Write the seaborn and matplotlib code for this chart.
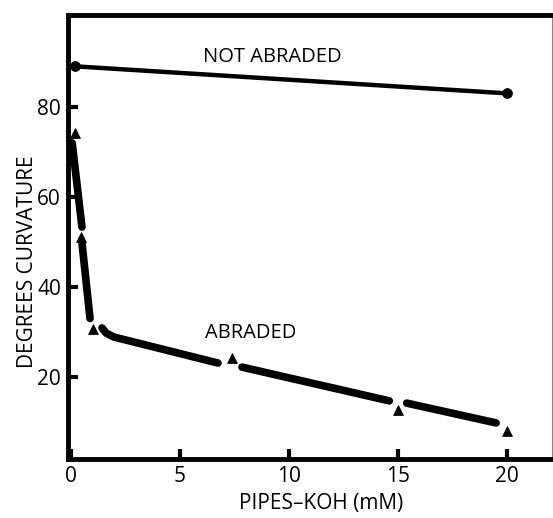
import pandas as pd
import seaborn as sns
import matplotlib.pyplot as plt

# measured points
not_abraded_x = [0.2, 20.0]
not_abraded_y = [89.0, 83.0]
abraded_x = [0.2, 0.45, 1.0, 7.4, 15.0, 20.0]
abraded_y = [74.2, 51.0, 30.7, 24.2, 12.7, 8.0]

# hand-drawn curve through abraded data, broken into pieces
curve_seg = [1, 1, 2, 2, 3, 3, 3, 3, 4, 4, 5, 5]
curve_x = [0.05, 0.5, 0.5, 0.87, 1.42, 1.6, 1.95, 6.74, 7.84, 14.6, 15.4, 19.5]
curve_y = [72.0, 53.3, 49.8, 33.0, 30.9, 29.8, 28.9, 23.1, 22.2, 14.7, 14.2, 9.8]

x_ticks = [0, 5, 10, 15, 20]
y_ticks = [20, 40, 60, 80]

sns.set_theme(style='ticks')
plt.rcParams['font.family'] = ['Open Sans', 'DejaVu Sans']
plt.rcParams['font.weight'] = 'medium'
plt.rcParams['text.color'] = 'black'
plt.rcParams['axes.labelcolor'] = 'black'
plt.rcParams['xtick.labelcolor'] = 'black'
plt.rcParams['ytick.labelcolor'] = 'black'

fig = plt.figure(figsize=(5.53, 5.18), dpi=100)
ax = fig.add_axes([0.123, 0.114, 0.875, 0.857])

na = pd.DataFrame({'x': not_abraded_x, 'y': not_abraded_y})
ab = pd.DataFrame({'x': abraded_x, 'y': abraded_y})
cv = pd.DataFrame({'x': curve_x, 'y': curve_y, 'seg': curve_seg})

sns.lineplot(data=na, x='x', y='y', color='black', lw=3.2, ax=ax)
sns.scatterplot(data=na, x='x', y='y', color='black', s=50, marker='o', edgecolor='black', ax=ax, zorder=3)
sns.lineplot(data=cv, x='x', y='y', units='seg', estimator=None, sort=False,
             color='black', lw=5.5, solid_capstyle='round', ax=ax)
sns.scatterplot(data=ab, x='x', y='y', color='black', s=50, marker='^', edgecolor='black', ax=ax, zorder=3)

ax.text(6.05, 91.1, 'NOT ABRADED', fontsize=14.5, va='center', ha='left')
ax.text(6.15, 29.8, 'ABRADED', fontsize=14.5, va='center', ha='left')

ax.set_xlim(-0.14, 22.06)
ax.set_ylim(1.8, 100.4)
ax.set_xticks(x_ticks)
ax.set_yticks(y_ticks)
ax.tick_params(direction='in', length=7, width=3, labelsize=15, color='black', pad=5)
ax.set_xlabel('PIPES\u2013KOH (mM)', fontsize=15)
ax.set_ylabel('DEGREES CURVATURE', fontsize=15)
ax.xaxis.set_label_coords(0.523, -0.077)
ax.yaxis.set_label_coords(-0.062, 0.444)

for side in ['left', 'bottom', 'top']:
    ax.spines[side].set_linewidth(3.5)
    ax.spines[side].set_color('black')
ax.spines['right'].set_linewidth(0.8)
ax.spines['right'].set_color('#888888')

fig.savefig('out.png', dpi=100)
